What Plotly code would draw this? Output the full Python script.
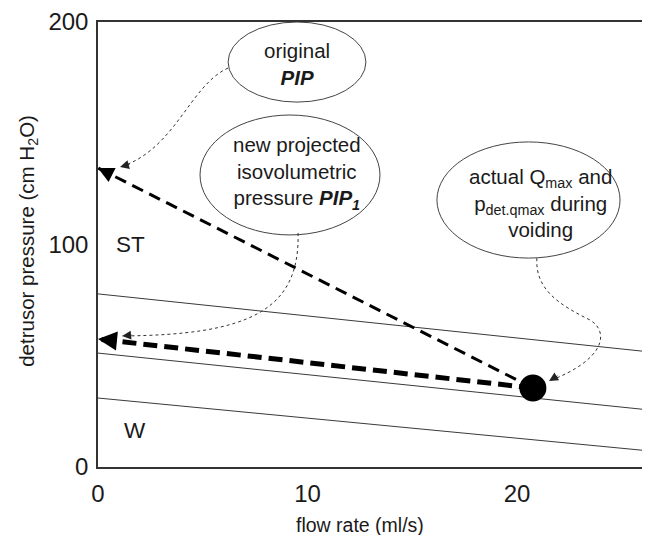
import plotly.graph_objects as go

# ---- data ----
flow_ends = [0, 26.35]            # flow rate (ml/s) at the ends of the nomogram lines
isobar_upper = [77.8, 51.7]       # detrusor pressure (cm H2O)
isobar_middle = [51.2, 25.6]
isobar_lower = [31.0, 7.2]

qmax = [20.76]                    # actual Qmax (ml/s)
pdet_qmax = [35.5]                # pdet at Qmax (cm H2O)
pip_original = [134.4]            # original PIP (at flow 0)
pip_new = [57.5]                  # new projected PIP1 (at flow 0)
zero_flow = [0]

x_ticks = [0, 10, 20]
y_ticks = [0, 100, 200]

FONT = "Liberation Sans, Arial, Helvetica, sans-serif"
INK = "#1a1a1a"

fig = go.Figure()

for ys in (isobar_upper, isobar_middle, isobar_lower):
    fig.add_trace(go.Scatter(x=flow_ends, y=ys, mode="lines",
                             line=dict(color="#3a3a3a", width=1), hoverinfo="skip"))

fig.add_trace(go.Scatter(x=qmax + zero_flow, y=pdet_qmax + pip_original, mode="lines",
                         line=dict(color="black", width=3, dash="12px,7px")))
fig.add_trace(go.Scatter(x=qmax + zero_flow, y=pdet_qmax + pip_new, mode="lines",
                         line=dict(color="black", width=5, dash="14px,7px")))
fig.add_trace(go.Scatter(x=qmax, y=pdet_qmax, mode="markers",
                         marker=dict(color="black", size=27)))

shapes = [
    # callout ellipses
    dict(type="circle", xref="x", yref="y", x0=6.21, x1=12.79, y0=164.0, y1=200.0,
         line=dict(color="#444", width=1)),
    dict(type="circle", xref="x", yref="y", x0=4.87, x1=13.46, y0=104.3, y1=158.2,
         line=dict(color="#444", width=1)),
    dict(type="circle", xref="x", yref="y", x0=16.18, x1=24.92, y0=93.9, y1=146.1,
         line=dict(color="#444", width=1)),
    # dotted callout curves
    dict(type="path", xref="x", yref="y",
         path="M 6.21,179.3 C 4.39,171.7 3.68,142.5 1.05,134.8",
         line=dict(color="#333", width=1, dash="dot")),
    dict(type="path", xref="x", yref="y",
         path="M 9.55,105.2 C 9.64,70.6 7.26,59.3 1.15,58.9",
         line=dict(color="#333", width=1, dash="dot")),
    dict(type="path", xref="x", yref="y",
         path="M 20.95,93.9 C 20.86,79.6 22.05,72.8 23.48,66.1 C 24.44,60.7 24.2,48.1 21.53,38.65",
         line=dict(color="#333", width=1, dash="dot")),
]

ann = []
# arrow heads of the dashed arrows
ann.append(dict(x=zero_flow[0], y=pip_original[0], xref="x", yref="y", ax=15, ay=7.5, text="",
                showarrow=True, arrowhead=2, arrowwidth=3, arrowsize=1.05,
                arrowcolor="black", standoff=0))
ann.append(dict(x=zero_flow[0], y=pip_new[0], xref="x", yref="y", ax=20, ay=2, text="",
                showarrow=True, arrowhead=2, arrowwidth=4, arrowsize=0.95,
                arrowcolor="black", standoff=0))
# arrow heads of the dotted callouts
for (hx, hy, dx, dy) in [(1.05, 134.8, 11, -3), (1.15, 58.9, 11, -1), (21.53, 38.65, 10, -6)]:
    ann.append(dict(x=hx, y=hy, xref="x", yref="y", ax=dx, ay=dy, text="",
                    showarrow=True, arrowhead=2, arrowwidth=1, arrowsize=1.8,
                    arrowcolor="#222", standoff=0))

txt = dict(showarrow=False, xref="x", yref="y", xanchor="center", yanchor="middle",
           font=dict(family=FONT, size=20.5, color=INK))
ann.append(dict(x=9.5, y=181.1, text="original<br><b><i>PIP</i></b>", **txt))
ann.append(dict(x=9.5, y=132.1,
                text="new projected<br>isovolumetric<br>pressure <b><i>PIP<sub>1</sub></i></b>", **txt))
ann.append(dict(x=21.1, y=118.7,
                text="actual Q<sub>max</sub> and<br>p<sub>det.qmax</sub> during<br>voiding", **txt))
zone = dict(showarrow=False, xref="x", yref="y", xanchor="center", yanchor="middle",
            font=dict(family=FONT, size=22.5, color=INK))
ann.append(dict(x=1.53, y=99.8, text="ST", **zone))
ann.append(dict(x=1.77, y=16.6, text="W", **zone))

# axis titles
ann.append(dict(x=0.475, y=-0.130, xref="paper", yref="paper", showarrow=False,
                xanchor="center", yanchor="middle",
                text="flow rate (ml/s)", font=dict(family=FONT, size=19.5, color=INK)))
ann.append(dict(x=-0.127, y=0.508, xref="paper", yref="paper", showarrow=False, textangle=-90,
                xanchor="center", yanchor="middle",
                text="detrusor pressure (cm H<sub>2</sub>O)", font=dict(family=FONT, size=20.5, color=INK)))

# the page body adds an 8px margin, so the figure is 8px smaller on each side
fig.update_layout(
    width=642, height=527,
    margin=dict(l=90, r=0, t=14, b=68),
    paper_bgcolor="white", plot_bgcolor="white",
    showlegend=False,
    shapes=shapes, annotations=ann,
    font=dict(family=FONT, color=INK),
    xaxis=dict(range=[0, 26.35], tickvals=x_ticks, showgrid=False, zeroline=False,
               showline=True, linecolor="#333", linewidth=1.5, mirror=True, ticks="",
               tickfont=dict(size=24, family=FONT, color=INK), ticklabelstandoff=4),
    yaxis=dict(range=[0, 200], tickvals=y_ticks, showgrid=False, zeroline=False,
               showline=True, linecolor="#333", linewidth=1.5, ticks="",
               tickfont=dict(size=24, family=FONT, color=INK), ticklabelstandoff=3),
)

fig.write_html("out.html")
